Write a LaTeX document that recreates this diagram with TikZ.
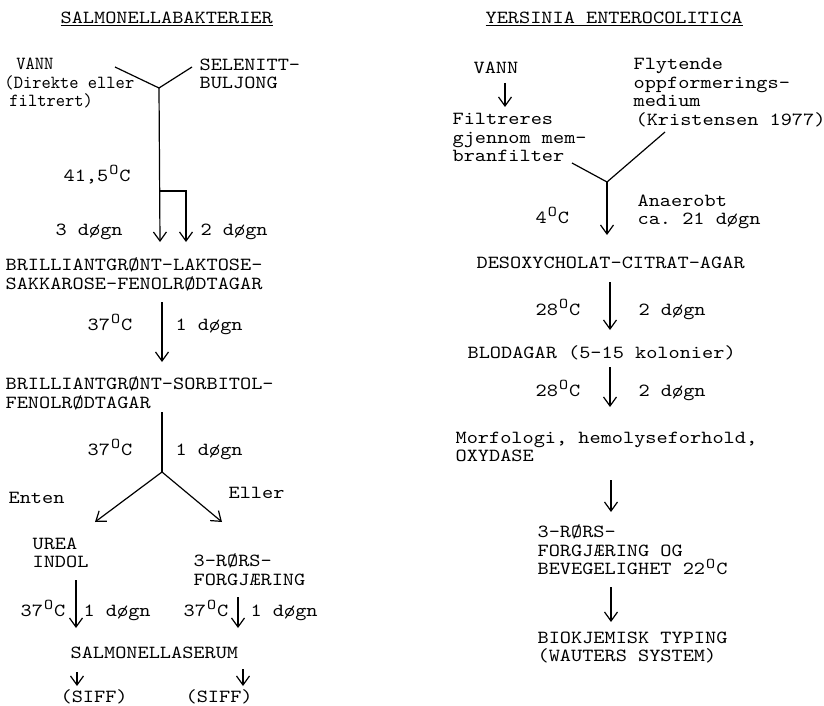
\documentclass[tikz,border=0pt]{standalone}
\usepackage{fontspec}
\setmonofont{lmmono10-regular.otf}[FakeStretch=1.15]
\usetikzlibrary{arrows.meta}
\newcommand{\capstrut}{\rule[-5.7pt]{0pt}{22.7pt}}
\newcommand{\grd}{\smash{\raisebox{6.5pt}{\makebox[11.2pt]{\fontsize{15}{15}\selectfont O}}}}
\newcommand{\tightlines}{\lineskiplimit=-30pt\relax}

\begin{document}
\begin{tikzpicture}[x=1pt, y=-1pt, >={Straight Barb[length=9pt,width=13pt]}, line width=1.2pt]
  \tikzstyle{txt}=[inner sep=0pt, anchor=west, align=left, yshift=-2.5pt,
    font={\ttfamily\fontsize{18.5}{18.5}\selectfont\tightlines},
    execute at begin node={\capstrut}, execute at end node={\capstrut}]
  \useasboundingbox (0,0) rectangle (824,706);

  % SALMONELLA
	\node[txt] (titleS) at (60,15) {\underline{SALMONELLABAKTERIER}};
	\node[txt, xscale=0.83, transform shape] (vannS) at (4,83)
	  {\ \hspace{3pt}VANN\\(Direkte eller\\\hspace{6pt}filtrert)};
	\node[txt] (selen)  at (199,74) {SELENITT-\\BULJONG};
	\coordinate (armL) at (115,67);
	\coordinate (armR) at (192,67);
	\coordinate (jS)   at (159,88);
	\coordinate (split) at (160,191);
	\coordinate (tip3) at (160,242);
	\coordinate (tip2) at (186,242);
	\draw (armL) -- (jS) -- (armR);
	\draw[->] (jS) -- (tip3);
	\draw[->] (split) -| (tip2);
	\node[txt] (t415) at (63,173) {41,5\grd C};
	\node[txt] (d3)   at (55,227) {3 døgn};
	\node[txt] (d2)   at (200,227) {2 døgn};

	\node[txt] (blsf) at (5,274) {BRILLIANTGRØNT-LAKTOSE-\\SAKKAROSE-FENOLRØDTAGAR};
	\coordinate (a1) at (162,302);
	\coordinate (b1) at (162,362);
	\draw[->] (a1) -- (b1);
	\node[txt] (t37a) at (87,322)  {37\grd C};
	\node[txt] (d1a)  at (175,322) {1 døgn};

	\node[txt] (bso) at (5,393) {BRILLIANTGRØNT-SORBITOL-\\FENOLRØDTAGAR};
	\coordinate (a2) at (162,412);
	\coordinate (jE) at (162,472);
	\coordinate (tipL) at (95,522);
	\coordinate (tipR) at (222,522);
	\draw (a2) -- (jE);
	\draw[->] (jE) -- (tipL);
	\draw[->] (jE) -- (tipR);
	\node[txt] (t37b)  at (87,447)  {37\grd C};
	\node[txt] (d1b)   at (175,447) {1 døgn};
	\node[txt] (enten) at (8,495)   {Enten};
	\node[txt] (eller) at (228,490) {Eller};

	\node[txt] (urea) at (32,553)  {UREA\\INDOL};
	\node[txt] (ror)  at (193,570) {3-RØRS-\\FORGJÆRING};
	\coordinate (a3) at (76,580);
	\coordinate (b3) at (76,628);
	\coordinate (a4) at (238,597);
	\coordinate (b4) at (238,628);
	\draw[->] (a3) -- (b3);
	\draw[->] (a4) -- (b4);
	\node[txt] (t37c) at (20,608)  {37\grd C};
	\node[txt] (d1c)  at (83,608)  {1 døgn};
	\node[txt] (t37d) at (183,608) {37\grd C};
	\node[txt] (d1d)  at (250,608) {1 døgn};

	\node[txt] (serum) at (70,650) {SALMONELLASERUM};
	\coordinate (a5) at (77,672);
	\coordinate (b5) at (77,686);
	\coordinate (a6) at (243,669);
	\coordinate (b6) at (243,686);
	\draw[->] (a5) -- (b5);
	\draw[->] (a6) -- (b6);
	\node[txt] (siff1) at (60,694)  {(SIFF)};
	\node[txt] (siff2) at (185,694) {(SIFF)};

  % YERSINIA
	\node[txt] (titleY) at (485,15) {\underline{YERSINIA ENTEROCOLITICA}};
	\node[txt] (vannY)  at (473,65) {VANN};
	\coordinate (a7) at (505,83);
	\coordinate (b7) at (505,107);
	\draw[->] (a7) -- (b7);
	\node[txt] (flyt) at (633,92)  {Flytende\\oppformerings-\\medium\\\hspace{2pt}(Kristensen 1977)};
	\node[txt] (filt) at (452,138) {Filtreres\\gjennom mem-\\branfilter};
	\coordinate (armL2) at (572,163);
	\coordinate (armR2) at (665,132);
	\coordinate (jY)    at (607,182);
	\coordinate (b8)    at (607,235);
	\draw (armL2) -- (jY) -- (armR2);
	\draw[->] (jY) -- (b8);
	\node[txt] (t4)    at (535,215) {4\grd C};
	\node[txt] (anaer) at (637,210) {Anaerobt\\ca. 21 døgn};

	\node[txt] (desox) at (476,260) {DESOXYCHOLAT-CITRAT-AGAR};
	\coordinate (a9) at (610,282);
	\coordinate (b9) at (610,330);
	\draw[->] (a9) -- (b9);
	\node[txt] (t28a) at (535,307) {28\grd C};
	\node[txt] (d2a)  at (638,307) {2 døgn};

	\node[txt] (blod) at (467,350) {BLODAGAR (5-15 kolonier)};
	\coordinate (a10) at (610,367);
	\coordinate (b10) at (610,407);
	\draw[->] (a10) -- (b10);
	\node[txt] (t28b) at (535,388) {28\grd C};
	\node[txt] (d2b)  at (638,388) {2 døgn};

	\node[txt] (morf) at (455,447) {Morfologi, hemolyseforhold,\\OXYDASE};
	\coordinate (a11) at (611,480);
	\coordinate (b11) at (611,512);
	\draw[->] (a11) -- (b11);

	\node[txt] (ror2) at (537,550) {3-RØRS-\\FORGJÆRING OG\\BEVEGELIGHET 22\grd C};
	\coordinate (a12) at (611,587);
	\coordinate (b12) at (611,622);
	\draw[->] (a12) -- (b12);
	\node[txt] (bio) at (537,647) {BIOKJEMISK TYPING\\(WAUTERS SYSTEM)};

\end{tikzpicture}
\end{document}
